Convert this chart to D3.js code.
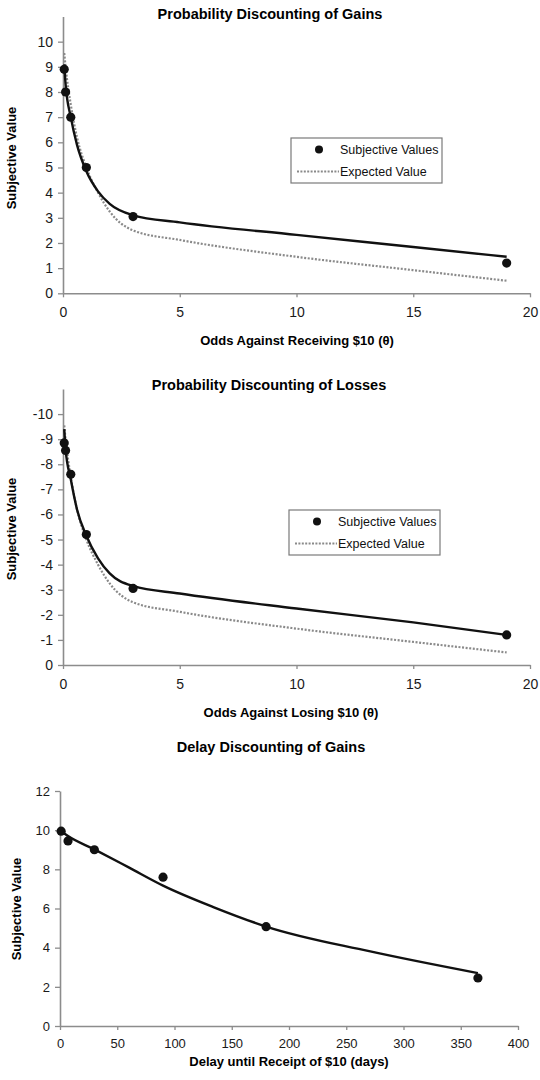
<!DOCTYPE html>
<html>
<head>
<meta charset="utf-8">
<script src="https://cdn.jsdelivr.net/npm/d3@7"></script>
<style>
  body { margin: 0; background: #fff; }
  svg { display: block; font-family: "Liberation Sans", Arial, sans-serif; }
</style>
</head>
<body>
<div id="chart"></div>
<script>
// --- data ---
// observed points
var oddsTheta = [0.053, 0.111, 0.333, 1, 3, 19];
var gainObserved = [8.9, 8.0, 7.0, 5.0, 3.05, 1.2];
var lossObserved = [-8.85, -8.55, -7.6, -5.2, -3.05, -1.2];

// curves
var curveTheta = [0.053, 0.111, 0.333, 0.6, 1, 1.5, 2, 3, 5, 10, 15, 19];
var gainFitted = [9.1, 8.3, 7.0, 5.9, 4.85, 4.05, 3.55, 3.1, 2.82, 2.32, 1.84, 1.45];
var lossFitted = [-9.4, -8.6, -7.4, -6.2, -5.15, -4.25, -3.65, -3.15, -2.85, -2.25, -1.7, -1.2];
var gainExpected = [9.55, 9.0, 7.5, 6.2, 5.0, 4.0, 3.25, 2.5, 2.12, 1.45, 0.92, 0.5];
var lossExpected = [-9.55, -9.0, -7.5, -6.2, -5.0, -4.0, -3.25, -2.5, -2.12, -1.45, -0.92, -0.5];

var delayDays = [1, 7, 30, 90, 180, 365];
var delayObserved = [9.95, 9.45, 9.0, 7.6, 5.07, 2.45];
var curveDays = [0, 7, 30, 60, 90, 135, 180, 270, 365];
var delayFitted = [10.0, 9.7, 9.02, 8.1, 7.17, 6.05, 5.08, 3.82, 2.7];

var probXTicks = [0, 5, 10, 15, 20];
var gainYTicks = [0, 1, 2, 3, 4, 5, 6, 7, 8, 9, 10];
var lossYTicks = [0, -1, -2, -3, -4, -5, -6, -7, -8, -9, -10];
var lossYLabels = ["0", "-1", "-2", "-3", "-4", "-5", "-6", "-7", "-8", "-9", "-10"];
var delayXTicks = [0, 50, 100, 150, 200, 250, 300, 350, 400];
var delayYTicks = [0, 2, 4, 6, 8, 10, 12];

var legendLabels = ["Subjective Values", "Expected Value"];

var width = 540,
    height = 1080;

var svg = d3.select('#chart').append('svg')
  .attr('width', width)
  .attr('height', height);

svg.append('rect').attr('width', width).attr('height', height).attr('fill', '#fff');

var axisColor = '#8c8c8c';

function pairs(xs, ys) {
  return xs.map(function(v, i) { return [v, ys[i]]; });
}

function drawPanel(p) {
  var g = svg.append('g');

  var x = d3.scaleLinear().domain(p.xDomain).range(p.xRange);
  var y = d3.scaleLinear().domain(p.yDomain).range(p.yRange);

  // axes
  var xAxis = d3.axisBottom(x).tickValues(p.xTicks).tickSize(4).tickSizeOuter(0).tickPadding(p.xPad);
  var yAxis = d3.axisLeft(y).tickValues(p.yTicks).tickSize(5).tickSizeOuter(0).tickPadding(5);
  if (p.yLabels) yAxis.tickFormat(function(d, i) { return p.yLabels[i]; });

  var gx = g.append('g').attr('transform', 'translate(0,' + p.yRange[0] + ')').call(xAxis);
  var gy = g.append('g').attr('transform', 'translate(' + p.xRange[0] + ',0)').call(yAxis);
  [gx, gy].forEach(function(a) {
    a.select('.domain').attr('stroke', axisColor).attr('stroke-width', 1.6);
    a.selectAll('.tick line').attr('stroke', axisColor).attr('stroke-width', 1.3);
    a.selectAll('.tick text').attr('fill', '#1a1a1a')
      .style('font-size', p.tickFont + 'px')
      .style('font-family', '"Liberation Sans", Arial, sans-serif');
  });

  var line = d3.line()
    .x(function(d) { return x(d[0]); })
    .y(function(d) { return y(d[1]); })
    .curve(d3.curveMonotoneX);

  if (p.expected) {
    g.append('path')
      .datum(pairs(p.curveXs, p.expected))
      .attr('d', line)
      .attr('fill', 'none')
      .attr('stroke', '#8a8a8a')
      .attr('stroke-width', 2.2)
      .attr('stroke-dasharray', '2,1.6');
  }

  g.append('path')
    .datum(pairs(p.curveXs, p.fitted))
    .attr('d', line)
    .attr('fill', 'none')
    .attr('stroke', '#111')
    .attr('stroke-width', 2.4);

  g.selectAll('circle.obs')
    .data(pairs(p.xs, p.observed))
    .enter().append('circle')
    .attr('class', 'obs')
    .attr('cx', function(d) { return x(d[0]); })
    .attr('cy', function(d) { return y(d[1]); })
    .attr('r', 4.6)
    .attr('fill', '#111');

  // titles
  g.append('text')
    .attr('x', p.titleX).attr('y', p.titleY)
    .attr('text-anchor', 'middle')
    .style('font-size', '14.5px').style('font-weight', 'bold')
    .text(p.title);

  g.append('text')
    .attr('x', p.xLabelX).attr('y', p.xLabelY)
    .attr('text-anchor', 'middle')
    .style('font-size', '13px').style('font-weight', 'bold')
    .text(p.xLabel);

  g.append('text')
    .attr('transform', 'translate(' + p.yLabelX + ',' + p.yLabelY + ') rotate(-90)')
    .attr('text-anchor', 'middle')
    .style('font-size', '13px').style('font-weight', 'bold')
    .text('Subjective Value');

  // legend
  if (p.legend) {
    var L = p.legend;
    var lg = g.append('g').attr('transform', 'translate(' + L.x + ',' + L.y + ')');
    lg.append('rect')
      .attr('width', 151).attr('height', 45)
      .attr('fill', '#fff')
      .attr('stroke', '#7a7a7a').attr('stroke-width', 1.2);
    lg.append('circle').attr('cx', 28).attr('cy', 11.5).attr('r', 4).attr('fill', '#111');
    lg.append('line')
      .attr('x1', 6).attr('x2', 48).attr('y1', 33.5).attr('y2', 33.5)
      .attr('stroke', '#8a8a8a').attr('stroke-width', 2)
      .attr('stroke-dasharray', '2,1.4');
    lg.selectAll('text.lg')
      .data(legendLabels)
      .enter().append('text')
      .attr('class', 'lg')
      .attr('x', 49)
      .attr('y', function(d, i) { return 16 + i * 22; })
      .style('font-size', '12.5px')
      .attr('fill', '#111')
      .text(function(d) { return d; });
  }
}

drawPanel({
  xs: oddsTheta, observed: gainObserved,
  curveXs: curveTheta, fitted: gainFitted, expected: gainExpected,
  xDomain: [0, 20], xRange: [63, 530],
  yDomain: [0, 11], yRange: [293.3, 16.5],
  xTicks: probXTicks, yTicks: gainYTicks, xPad: 10, tickFont: 14,
  title: 'Probability Discounting of Gains', titleX: 270, titleY: 19,
  xLabel: 'Odds Against Receiving $10 (\u03b8)', xLabelX: 297, xLabelY: 345,
  yLabelX: 16, yLabelY: 158,
  legend: { x: 291, y: 138 }
});

drawPanel({
  xs: oddsTheta, observed: lossObserved,
  curveXs: curveTheta, fitted: lossFitted, expected: lossExpected,
  xDomain: [0, 20], xRange: [63, 530],
  yDomain: [0, -11], yRange: [665, 389],
  xTicks: probXTicks, yTicks: lossYTicks, yLabels: lossYLabels, xPad: 10, tickFont: 14,
  title: 'Probability Discounting of Losses', titleX: 269, titleY: 390,
  xLabel: 'Odds Against Losing $10 (\u03b8)', xLabelX: 291, xLabelY: 717,
  yLabelX: 16, yLabelY: 529,
  legend: { x: 289, y: 510 }
});

drawPanel({
  xs: delayDays, observed: delayObserved,
  curveXs: curveDays, fitted: delayFitted,
  xDomain: [0, 400], xRange: [60, 518],
  yDomain: [0, 12], yRange: [1026, 791],
  xTicks: delayXTicks, yTicks: delayYTicks, xPad: 9, tickFont: 13,
  title: 'Delay Discounting of Gains', titleX: 271, titleY: 752,
  xLabel: 'Delay until Receipt of $10 (days)', xLabelX: 289, xLabelY: 1066,
  yLabelX: 21, yLabelY: 909
});
</script>
</body>
</html>
